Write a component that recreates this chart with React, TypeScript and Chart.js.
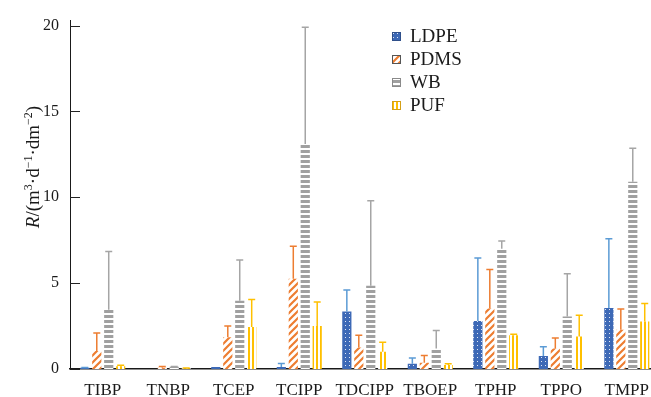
import { useEffect, useRef } from 'react';
import { Chart, registerables } from 'chart.js';

Chart.register(...registerables);

const categories = ['TIBP', 'TNBP', 'TCEP', 'TCIPP', 'TDCIPP', 'TBOEP', 'TPHP', 'TPPO', 'TMPP'];
const seriesNames = ['LDPE', 'PDMS', 'WB', 'PUF'];

const ldpeMean = [0.07, 0, 0.12, 0.12, 3.35, 0.31, 2.8, 0.76, 3.55];
const ldpeSd = [0.02, 0, 0, 0.2, 1.25, 0.33, 3.67, 0.54, 4.03];
const pdmsMean = [1.05, 0.08, 1.85, 5.25, 1.25, 0.37, 3.53, 1.2, 2.28];
const pdmsSd = [1.05, 0.07, 0.65, 1.9, 0.72, 0.41, 2.27, 0.6, 1.21];
const wbMean = [3.45, 0.13, 3.97, 13.1, 4.85, 1.2, 7.0, 3.06, 10.9];
const wbSd = [3.4, 0.02, 2.38, 6.8, 4.95, 1.04, 0.45, 2.48, 1.95];
const pufMean = [0.16, 0.05, 2.45, 2.5, 1.0, 0.23, 1.97, 1.89, 2.77];
const pufSd = [0.06, 0.01, 1.6, 1.4, 0.56, 0.08, 0.05, 1.24, 1.05];

const yTickValues = [0, 5, 10, 15, 20];
const yMax = 20.29;

const FONT = '"Liberation Serif", "Times New Roman", serif';
const TEXT = '#1a1a1a';

const errColors = ['#5b9bd5', '#ed7d31', '#a5a5a5', '#ffc000'];
const legendBorders = ['#2f4f8a', '#555555', '#8a8a8a', '#d4a017'];

function makePattern(kind: string): CanvasPattern | string {
  const c = document.createElement('canvas');
  const ctx = c.getContext('2d');
  if (!ctx) return '#888';
  if (kind === 'dots') {
    c.width = 4; c.height = 4;
    ctx.fillStyle = '#3d69b6';
    ctx.fillRect(0, 0, 4, 4);
    ctx.fillStyle = 'rgba(255,255,255,0.85)';
    ctx.fillRect(1, 1, 1, 1);
  } else if (kind === 'diag') {
    c.width = 7; c.height = 7;
    ctx.fillStyle = '#ffffff';
    ctx.fillRect(0, 0, 7, 7);
    ctx.strokeStyle = '#ed7d31';
    ctx.lineWidth = 2.2;
    ctx.beginPath();
    ctx.moveTo(-1, 8); ctx.lineTo(8, -1);
    ctx.moveTo(-1, 1); ctx.lineTo(1, -1);
    ctx.moveTo(6, 8); ctx.lineTo(8, 6);
    ctx.stroke();
  } else if (kind === 'horiz') {
    c.width = 4; c.height = 5;
    ctx.fillStyle = '#ffffff';
    ctx.fillRect(0, 0, 4, 5);
    ctx.fillStyle = '#a0a0a0';
    ctx.fillRect(0, 0, 4, 3);
  } else {
    c.width = 4; c.height = 4;
    ctx.fillStyle = '#ffffff';
    ctx.fillRect(0, 0, 4, 4);
    ctx.fillStyle = '#ffc000';
    ctx.fillRect(0, 0, 2, 4);
  }
  return ctx.createPattern(c, 'repeat') || '#888';
}

export default function App() {
  const ref = useRef<HTMLCanvasElement | null>(null);

  useEffect(() => {
    const canvas = ref.current;
    if (!canvas) return;
    const patterns = [makePattern('dots'), makePattern('diag'), makePattern('horiz'), makePattern('vert')];
    const means = [ldpeMean, pdmsMean, wbMean, pufMean];
    const sds = [ldpeSd, pdmsSd, wbSd, pufSd];

    const errorBars = {
      id: 'errorBars',
      afterDatasetsDraw(chart: any) {
        const ctx = chart.ctx;
        const ys = chart.scales.y;
        ctx.save();
        chart.data.datasets.forEach((ds: any, i: number) => {
          const meta = chart.getDatasetMeta(i);
          meta.data.forEach((el: any, j: number) => {
            const sd = sds[i][j];
            if (!sd) return;
            const top = ys.getPixelForValue(means[i][j] + sd);
            const x = el.x;
            ctx.strokeStyle = errColors[i];
            ctx.lineWidth = 1.5;
            ctx.beginPath();
            ctx.moveTo(x, el.y);
            ctx.lineTo(x, top);
            ctx.moveTo(x - 3.5, top);
            ctx.lineTo(x + 3.5, top);
            ctx.stroke();
          });
        });
        ctx.restore();
      },
    };

    const decorations = {
      id: 'decorations',
      afterDraw(chart: any) {
        const ctx = chart.ctx;
        const ys = chart.scales.y;
        const area = chart.chartArea;
        ctx.save();
        // inner tick marks
        ctx.strokeStyle = '#222';
        ctx.lineWidth = 1;
        yTickValues.forEach((v) => {
          const y = Math.round(ys.getPixelForValue(v)) + 0.5;
          ctx.beginPath();
          ctx.moveTo(area.left, y);
          ctx.lineTo(area.left + 10, y);
          ctx.stroke();
        });
        // legend
        ctx.font = `19px ${FONT}`;
        ctx.textBaseline = 'middle';
        ctx.textAlign = 'left';
        seriesNames.forEach((name, i) => {
          const bx = 392;
          const by = 32 + i * 23;
          ctx.fillStyle = patterns[i] as any;
          ctx.fillRect(bx, by, 9, 9);
          ctx.strokeStyle = legendBorders[i];
          ctx.lineWidth = 1;
          ctx.strokeRect(bx + 0.5, by + 0.5, 8, 8);
          ctx.fillStyle = TEXT;
          ctx.fillText(name, 410, by + 5);
        });
        // y-axis title
        const size = 19;
        const supSize = 12;
        const pieces: { t: string; italic?: boolean; sup?: boolean }[] = [
          { t: 'R', italic: true },
          { t: '/(m' },
          { t: '3', sup: true },
          { t: '·d' },
          { t: '−1', sup: true },
          { t: '·dm' },
          { t: '−2', sup: true },
          { t: ')' },
        ];
        const fontFor = (p: any) => `${p.italic ? 'italic ' : ''}${p.sup ? supSize : size}px ${FONT}`;
        let total = 0;
        const widths = pieces.map((p) => {
          ctx.font = fontFor(p);
          const w = ctx.measureText(p.t).width;
          total += w;
          return w;
        });
        ctx.translate(33, 167);
        ctx.rotate(-Math.PI / 2);
        ctx.textBaseline = 'alphabetic';
        let x = -total / 2;
        pieces.forEach((p, k) => {
          ctx.font = fontFor(p);
          ctx.fillStyle = TEXT;
          ctx.fillText(p.t, x, p.sup ? 6 - 7 : 6);
          x += widths[k];
        });
        ctx.restore();
      },
    };

    const chart = new Chart(canvas, {
      type: 'bar',
      data: {
        labels: categories,
        datasets: seriesNames.map((name, i) => ({
          label: name,
          data: means[i],
          backgroundColor: patterns[i] as any,
          borderWidth: 0,
          categoryPercentage: 0.73,
          barPercentage: 0.77,
        })),
      },
      options: {
        responsive: false,
        animation: false,
        devicePixelRatio: 1,
        layout: { padding: { top: 20, right: 0, left: 0, bottom: 0 } },
        plugins: {
          legend: { display: false },
          tooltip: { enabled: false },
          title: { display: false },
        },
        scales: {
          x: {
            grid: { display: false, drawTicks: false },
            border: { display: true, color: '#1a1a1a', width: 1.6 },
            ticks: { font: { family: FONT, size: 17 }, color: TEXT, padding: 11, maxRotation: 0, autoSkip: false },
            afterFit(scale: any) { scale.height = 28; },
          },
          y: {
            min: 0,
            max: yMax,
            grid: { display: false, drawTicks: false },
            border: { display: true, color: '#1a1a1a', width: 1 },
            ticks: { stepSize: 5, font: { family: FONT, size: 16 }, color: TEXT, padding: 11 },
            afterBuildTicks(scale: any) {
              scale.ticks = yTickValues.map((v) => ({ value: v }));
            },
            afterFit(scale: any) { scale.width = 70; },
          },
        },
      },
      plugins: [errorBars, decorations],
    });

    return () => chart.destroy();
  }, []);

  return (
    <div style={{ position: 'fixed', left: 0, top: 0, width: 651, height: 397, overflow: 'hidden', background: '#fff' }}>
      <canvas ref={ref} width={660} height={397} style={{ width: 660, height: 397, display: 'block' }} />
    </div>
  );
}
